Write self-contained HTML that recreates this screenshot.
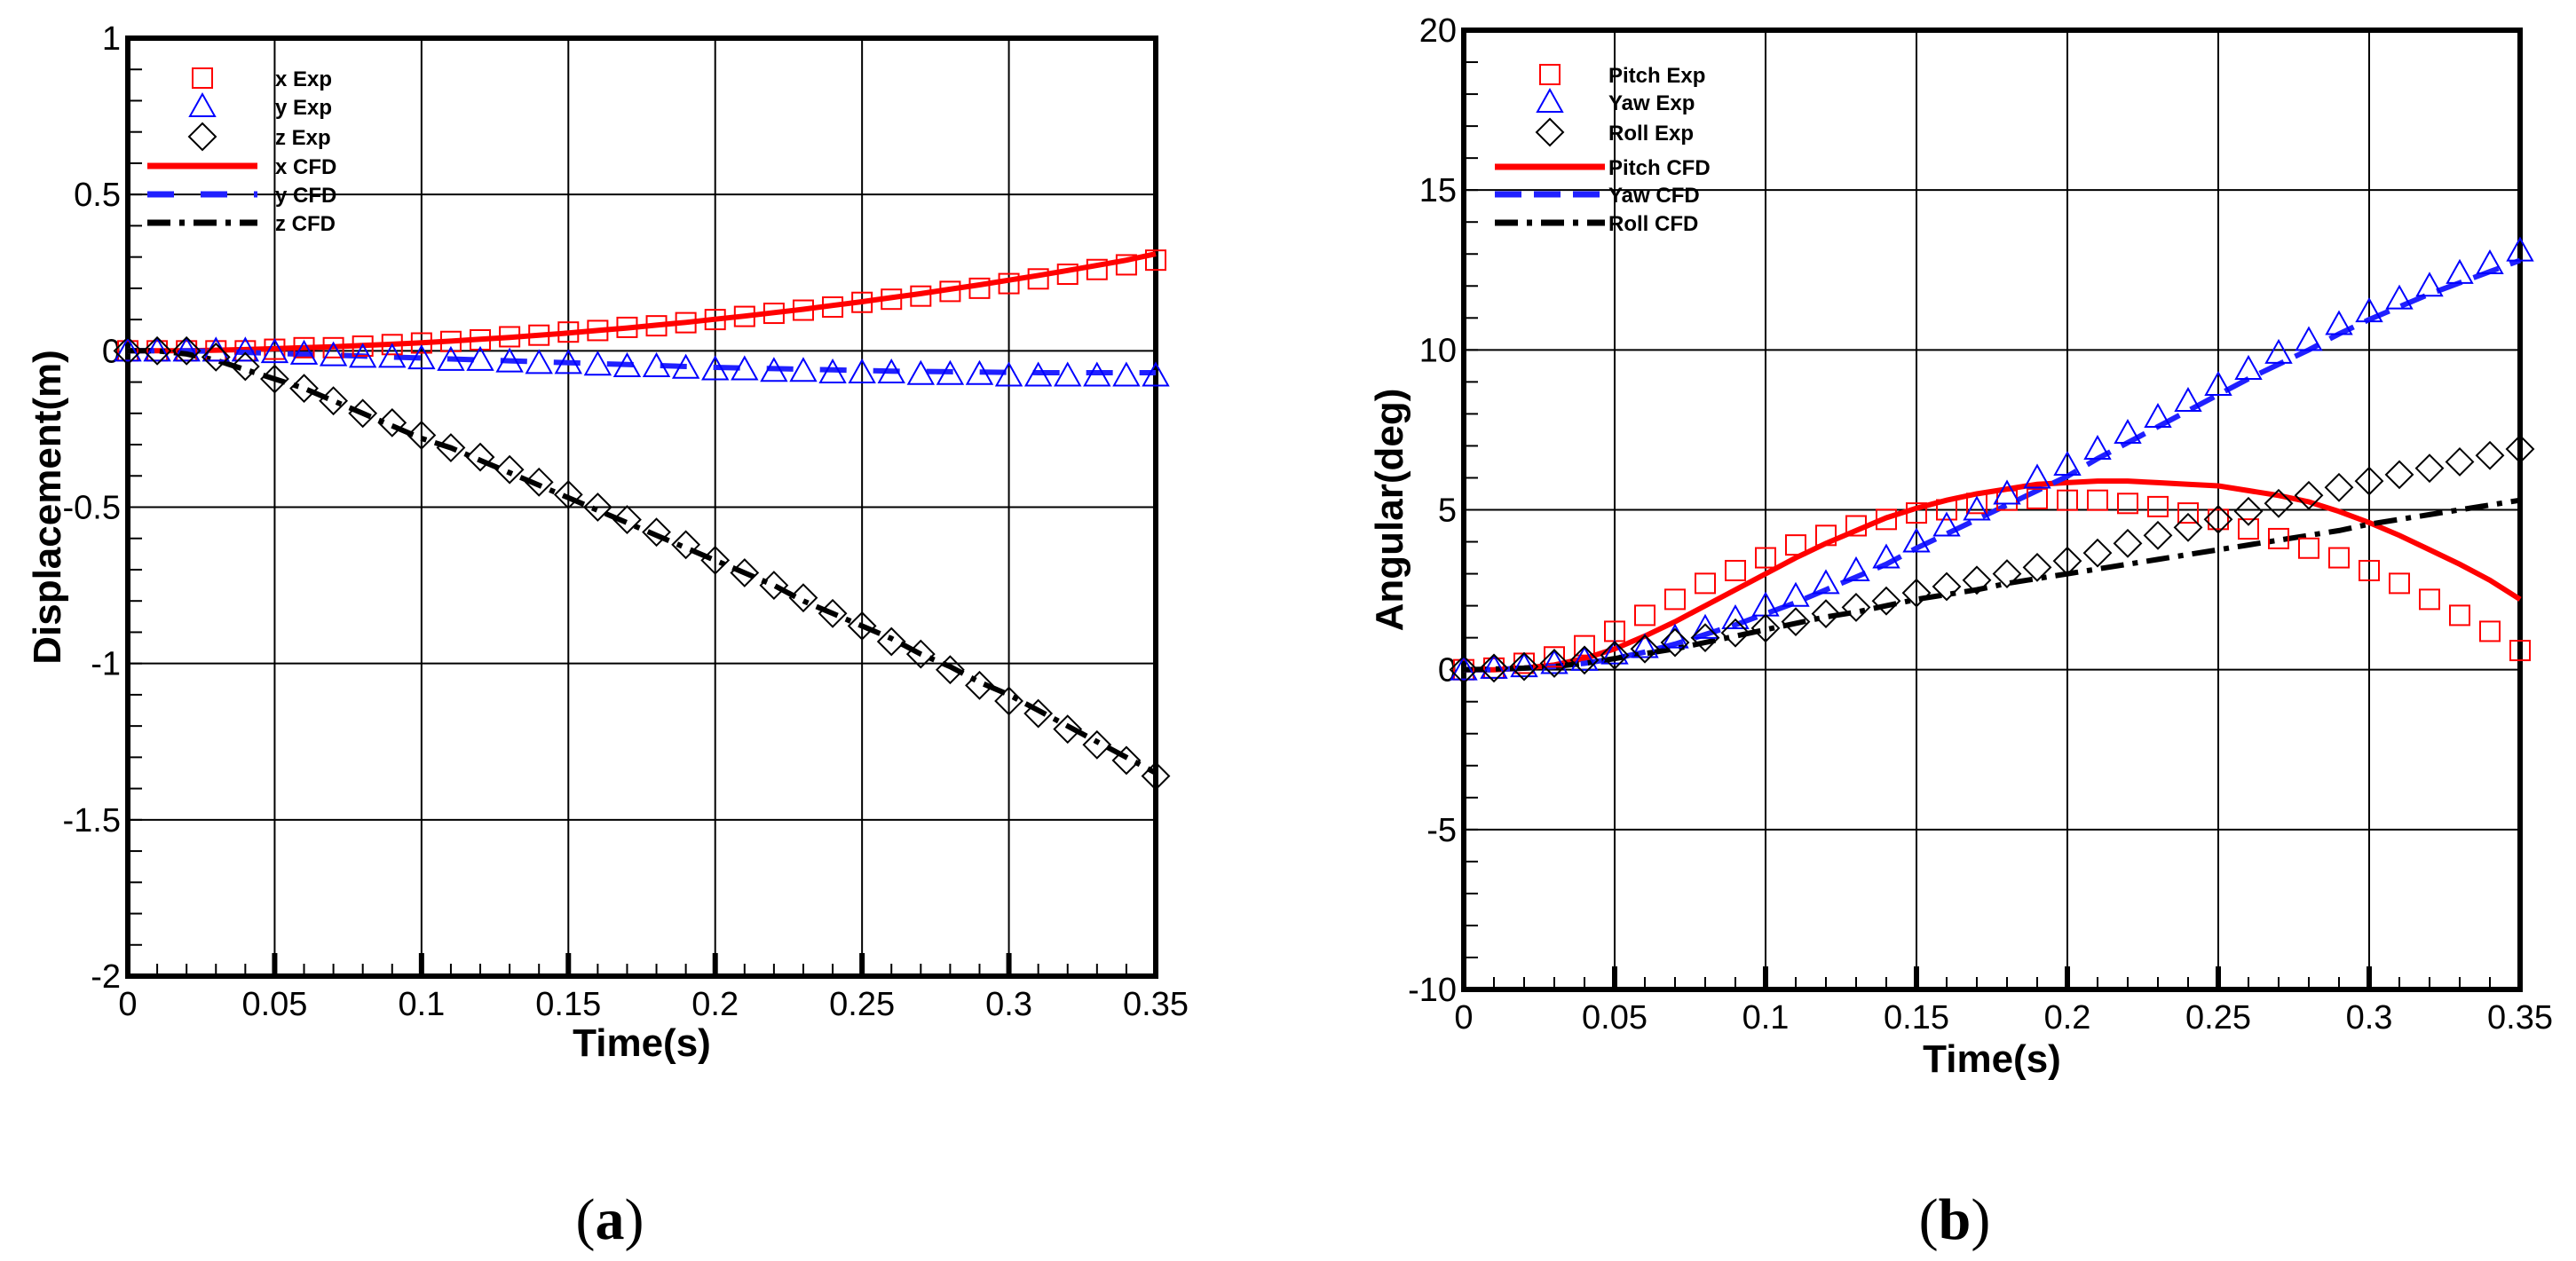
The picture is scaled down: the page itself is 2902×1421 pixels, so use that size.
<!DOCTYPE html>
<html><head><meta charset="utf-8"><style>
html,body{margin:0;padding:0;background:#fff;}
svg{display:block;font-family:"Liberation Sans",Arial,sans-serif;}
</style></head><body>
<svg id="fig" width="2902" height="1421" viewBox="0 0 2902 1421" xmlns="http://www.w3.org/2000/svg">
<g id="pa"></g>
<g id="pb"></g>
<text x="687" y="1396" font-family="Liberation Serif,serif" font-size="66" text-anchor="middle">(<tspan font-weight="bold">a</tspan>)</text>
<text x="2202" y="1396" font-family="Liberation Serif,serif" font-size="66" text-anchor="middle">(<tspan font-weight="bold">b</tspan>)</text>
</svg>
<script>
const times=[0,0.01,0.02,0.03,0.04,0.05,0.06,0.07,0.08,0.09,0.10,0.11,0.12,0.13,0.14,0.15,0.16,0.17,0.18,0.19,0.20,0.21,0.22,0.23,0.24,0.25,0.26,0.27,0.28,0.29,0.30,0.31,0.32,0.33,0.34,0.35];
const xTicks=[0,0.05,0.1,0.15,0.2,0.25,0.3,0.35];
const xTickLabels=["0","0.05","0.1","0.15","0.2","0.25","0.3","0.35"];
// panel a
const aYTicks=[1,0.5,0,-0.5,-1,-1.5,-2];
const aYTickLabels=["1","0.5","0","-0.5","-1","-1.5","-2"];
const xExp=[0,0,0,0,0,0.005,0.01,0.01,0.015,0.02,0.025,0.03,0.035,0.045,0.05,0.06,0.065,0.075,0.08,0.09,0.1,0.11,0.12,0.13,0.14,0.155,0.165,0.175,0.19,0.2,0.215,0.23,0.245,0.26,0.275,0.29];
const yExp=[0,0,0,0,0,-0.005,-0.01,-0.015,-0.02,-0.02,-0.025,-0.03,-0.03,-0.035,-0.04,-0.04,-0.045,-0.05,-0.05,-0.055,-0.06,-0.06,-0.065,-0.065,-0.07,-0.07,-0.07,-0.075,-0.075,-0.075,-0.08,-0.08,-0.08,-0.08,-0.08,-0.08];
const zExp=[0,0,0,-0.02,-0.05,-0.09,-0.12,-0.16,-0.2,-0.23,-0.27,-0.31,-0.34,-0.38,-0.42,-0.46,-0.5,-0.54,-0.58,-0.62,-0.67,-0.71,-0.75,-0.79,-0.84,-0.88,-0.93,-0.97,-1.02,-1.07,-1.12,-1.16,-1.21,-1.26,-1.31,-1.36];
const xCfd=[0,0,0,0.002,0.004,0.007,0.01,0.013,0.017,0.021,0.026,0.031,0.037,0.043,0.05,0.057,0.065,0.073,0.082,0.091,0.101,0.111,0.122,0.133,0.145,0.157,0.17,0.183,0.197,0.211,0.226,0.241,0.257,0.273,0.29,0.31];
const yCfd=[0,0,0,-0.002,-0.005,-0.008,-0.011,-0.014,-0.017,-0.02,-0.023,-0.026,-0.029,-0.032,-0.035,-0.038,-0.041,-0.044,-0.047,-0.05,-0.053,-0.055,-0.057,-0.059,-0.061,-0.063,-0.065,-0.066,-0.067,-0.068,-0.069,-0.07,-0.07,-0.07,-0.07,-0.07];
const zCfd=[0,0,-0.01,-0.03,-0.06,-0.09,-0.12,-0.16,-0.2,-0.24,-0.28,-0.31,-0.35,-0.39,-0.43,-0.47,-0.51,-0.55,-0.59,-0.63,-0.67,-0.71,-0.75,-0.8,-0.84,-0.88,-0.92,-0.97,-1.01,-1.06,-1.1,-1.15,-1.2,-1.25,-1.3,-1.35];
// panel b
const bYTicks=[20,15,10,5,0,-5,-10];
const bYTickLabels=["20","15","10","5","0","-5","-10"];
const pitchExp=[0,0.05,0.2,0.4,0.75,1.2,1.7,2.2,2.7,3.1,3.5,3.9,4.2,4.5,4.7,4.9,5.0,5.2,5.3,5.35,5.3,5.3,5.2,5.1,4.9,4.7,4.4,4.1,3.8,3.5,3.1,2.7,2.2,1.7,1.2,0.6];
const yawExp=[0,0.05,0.1,0.2,0.3,0.5,0.7,1.0,1.3,1.6,2.0,2.3,2.7,3.1,3.5,4.0,4.5,5.0,5.5,6.0,6.4,6.9,7.4,7.9,8.4,8.9,9.4,9.9,10.3,10.8,11.2,11.6,12.0,12.4,12.7,13.1];
const rollExp=[0,0.05,0.1,0.2,0.3,0.45,0.65,0.85,1.0,1.15,1.3,1.5,1.75,1.95,2.15,2.4,2.6,2.8,3.0,3.2,3.4,3.65,3.95,4.2,4.45,4.7,4.95,5.2,5.45,5.7,5.9,6.1,6.3,6.5,6.7,6.9];
const pitchCfd=[0,0,0.05,0.15,0.35,0.65,1.05,1.5,2.0,2.5,3.0,3.5,3.95,4.35,4.75,5.05,5.3,5.5,5.65,5.8,5.85,5.9,5.9,5.85,5.8,5.75,5.6,5.45,5.25,4.95,4.6,4.2,3.75,3.3,2.8,2.2];
const yawCfd=[0,0,0.05,0.1,0.2,0.35,0.55,0.8,1.1,1.4,1.75,2.1,2.5,2.9,3.3,3.8,4.25,4.7,5.15,5.6,6.05,6.6,7.1,7.6,8.1,8.6,9.1,9.55,10.0,10.5,10.95,11.35,11.75,12.1,12.45,12.8];
const rollCfd=[0,0.02,0.05,0.1,0.2,0.35,0.5,0.65,0.85,1.05,1.25,1.45,1.65,1.8,2.0,2.2,2.35,2.5,2.7,2.85,3.0,3.15,3.3,3.45,3.6,3.75,3.9,4.05,4.2,4.35,4.55,4.7,4.85,5.0,5.15,5.3];

const NS="http://www.w3.org/2000/svg";
function mk(parent,tag,attrs){const e=document.createElementNS(NS,tag);for(const k in attrs)e.setAttribute(k,attrs[k]);parent.appendChild(e);return e;}

function drawPanel(g,cfg){
  const {L,R,T,B,ymin,ymax,yTicks,yLabels,yMinorStep,ytitle,yTitleX,xTitleY,legX,legTextX,legRows,series,lines,legendNames}=cfg;
  const sx=v=>L+(v-0)/(0.35)*(R-L);
  const sy=v=>T+(ymax-v)/(ymax-ymin)*(B-T);
  // grid
  for(let i=0;i<xTicks.length;i++){
    const ln=mk(g,'line',{x1:sx(xTicks[i]),x2:sx(xTicks[i]),y1:T,y2:B,stroke:'#000','stroke-width':2});
    
    
  }
  for(let i=0;i<yTicks.length;i++){
    const ln=mk(g,'line',{x1:L,x2:R,y1:sy(yTicks[i]),y2:sy(yTicks[i]),stroke:'#000','stroke-width':2});
    
    
  }
  // minor x ticks
  for(let k=1;k<35;k++){
    const v=k*0.01; const major=(k%5===0);
    const ln=mk(g,'line',{x1:sx(v),x2:sx(v),y1:B,y2:B-(major?26:14),stroke:'#000','stroke-width':major?6:2});
    
    
  }
  // minor y ticks
  for(let v=ymin+yMinorStep;v<ymax-1e-9;v+=yMinorStep){
    const ln=mk(g,'line',{x1:L,x2:L+16,y1:sy(v),y2:sy(v),stroke:'#000','stroke-width':2});
    
    
  }
  // frame
  const fr=mk(g,'rect',{x:L,y:T,width:R-L,height:B-T,fill:'none',stroke:'#000','stroke-width':6});
  
  
  // tick labels
  for(let i=0;i<xTicks.length;i++){
    const t=mk(g,'text',{x:sx(xTicks[i]),y:B+44,'font-size':38,'text-anchor':'middle'});
    t.textContent=xTickLabels[i];
    
    
  }
  for(let i=0;i<yTicks.length;i++){
    const t=mk(g,'text',{x:L-8,y:sy(yTicks[i])+13,'font-size':38,'text-anchor':'end'});
    t.textContent=yLabels[i];
    
    
  }
  // titles
  const xt=mk(g,'text',{x:(L+R)/2,y:xTitleY,'font-size':44,'font-weight':'bold','text-anchor':'middle'});
  xt.textContent='Time(s)';
  
  
  const yc=(T+B)/2;
  const yt=mk(g,'text',{x:yTitleX,y:yc,'font-size':44,'font-weight':'bold','text-anchor':'middle',transform:`rotate(-90 ${yTitleX} ${yc})`});
  yt.textContent=ytitle;
  
  
  // lines
  lines.forEach(s=>{
    const d=times.map((t,i)=>(i?'L':'M')+sx(t).toFixed(1)+' '+sy(s.vals[i]).toFixed(1)).join(' ');
    const p=mk(g,'path',{d:d,fill:'none',stroke:s.color,'stroke-width':6,'stroke-dasharray':s.dash||'none'});
    
    
  });
  // markers
  function marker(gg,type,cx,cy,color){
    let e;
    if(type==='sq') e=mk(gg,'rect',{x:cx-11,y:cy-11,width:22,height:22,fill:'none',stroke:color,'stroke-width':2});
    else if(type==='tri') e=mk(gg,'polygon',{points:`${cx},${cy-14} ${cx-14},${cy+11} ${cx+14},${cy+11}`,fill:'none',stroke:color,'stroke-width':2});
    else e=mk(gg,'polygon',{points:`${cx},${cy-15} ${cx+15},${cy} ${cx},${cy+15} ${cx-15},${cy}`,fill:'none',stroke:color,'stroke-width':2});
    return e;
  }
  series.forEach(s=>{
    const gg=mk(g,'g',{});
    
    
    times.forEach((t,i)=>{
      const m=marker(gg,s.type,sx(t),sy(s.vals[i]),s.color);
      
      
    });
  });
  // legend
  const lg=mk(g,'g',{});
  
  
  series.forEach((s,i)=>{
    const e=mk(lg,'g',{});
    
    
    marker(e,s.type,legX,legRows[i],s.color);
    const t=mk(e,'text',{x:legTextX,y:legRows[i]+9,'font-size':24,'font-weight':'bold'});
    t.textContent=legendNames[i];
  });
  lines.forEach((s,i)=>{
    const y=legRows[i+3];
    const e=mk(lg,'g',{});
    
    
    mk(e,'line',{x1:legX-62,x2:legX+62,y1:y,y2:y,stroke:s.color,'stroke-width':7,'stroke-dasharray':s.dash||'none'});
    const t=mk(e,'text',{x:legTextX,y:y+9,'font-size':24,'font-weight':'bold'});
    t.textContent=legendNames[i+3];
  });
}

drawPanel(document.getElementById('pa'),{L:144,R:1302,T:43,B:1100,ymin:-2,ymax:1,yTicks:aYTicks,yLabels:aYTickLabels,yMinorStep:0.1,
  ytitle:'Displacement(m)',yTitleX:68,xTitleY:1190,legX:228,legTextX:310,legRows:[88,120,154,187,219,251],
  legendNames:['x Exp','y Exp','z Exp','x CFD','y CFD','z CFD'],
  series:[{name:'x-exp-series',type:'sq',color:'#ff0000',vals:xExp},{name:'y-exp-series',type:'tri',color:'#0000ff',vals:yExp},{name:'z-exp-series',type:'dia',color:'#000',vals:zExp}],
  lines:[{name:'x-cfd-line',color:'#ff0000',vals:xCfd},{name:'y-cfd-line',color:'#2020ff',vals:yCfd,dash:'30 30'},{name:'z-cfd-line',color:'#000',vals:zCfd,dash:'26 10 6 10'}]});

drawPanel(document.getElementById('pb'),{L:1649,R:2839,T:34,B:1115,ymin:-10,ymax:20,yTicks:bYTicks,yLabels:bYTickLabels,yMinorStep:1,
  ytitle:'Angular(deg)',yTitleX:1580,xTitleY:1208,legX:1746,legTextX:1812,legRows:[84,115,149,188,219,251],
  legendNames:['Pitch Exp','Yaw Exp','Roll Exp','Pitch CFD','Yaw CFD','Roll CFD'],
  series:[{name:'pitch-exp-series',type:'sq',color:'#ff0000',vals:pitchExp},{name:'yaw-exp-series',type:'tri',color:'#0000ff',vals:yawExp},{name:'roll-exp-series',type:'dia',color:'#000',vals:rollExp}],
  lines:[{name:'pitch-cfd-line',color:'#ff0000',vals:pitchCfd},{name:'yaw-cfd-line',color:'#2020ff',vals:yawCfd,dash:'30 14'},{name:'roll-cfd-line',color:'#000',vals:rollCfd,dash:'26 10 6 10'}]});
</script>
</body></html>
